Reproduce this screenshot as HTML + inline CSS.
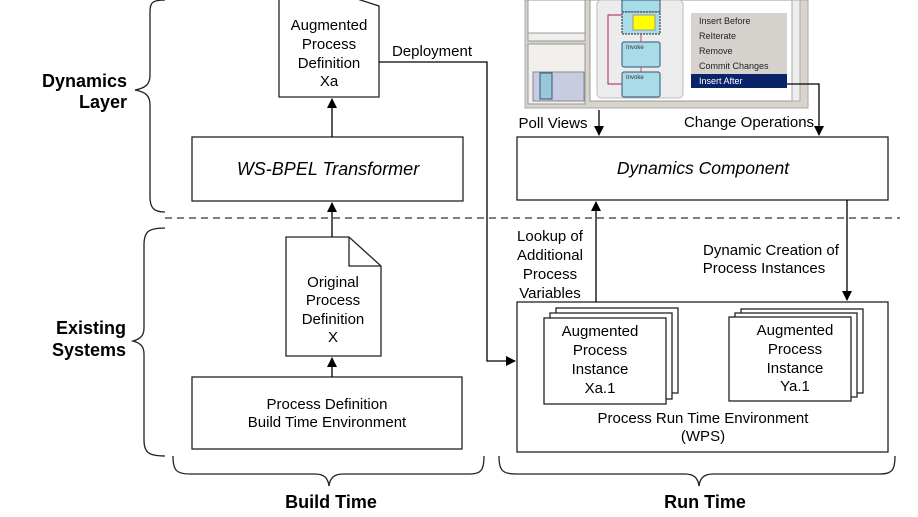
<!DOCTYPE html>
<html><head><meta charset="utf-8"><style>
html,body{margin:0;padding:0;background:#fff;}
svg{display:block;font-family:"Liberation Sans",sans-serif;}
</style></head><body>
<svg width="918" height="517" viewBox="0 0 918 517" xmlns="http://www.w3.org/2000/svg">
<defs>
<marker id="a" markerWidth="10" markerHeight="10" refX="9" refY="5" orient="auto" markerUnits="userSpaceOnUse"><path d="M0,0 L10,5 L0,10 z" fill="#000"/></marker>
</defs>
<g fill="none" stroke="#222" stroke-width="1.3">
<path d="M165,0 C150,0 150,4 150,15 L150,75 C150,84 146,88 135,90 C146,92 150,96 150,105 L150,197 C150,208 154,212 165,212"/>
<path d="M165,228 C148,228 144,232 144,245 L144,328 C144,336 140,339 133,341 C140,343 144,346 144,354 L144,440 C144,452 148,456 165,456"/>
<path d="M173,456 C173,470 176,474 190,474 L315,474 C324,474 328,478 329,486 C330,478 334,474 343,474 L470,474 C481,474 484,470 484,456"/>
<path d="M499,456 C499,470 502,474 516,474 L685,474 C694,474 698,478 699,486 C700,478 704,474 713,474 L880,474 C892,474 895,470 895,456"/>
</g>
<line x1="165" y1="218" x2="900" y2="218" stroke="#333" stroke-width="1.2" stroke-dasharray="7,5"/>
<g fill="#fff" stroke="#222" stroke-width="1.3">
<path d="M279,-5 L345,-5 L379,6 L379,97 L279,97 Z"/>
<rect x="192" y="137" width="271" height="64"/>
<path d="M286,237 L349,237 L381,266 L381,356 L286,356 Z"/>
<path d="M349,237 L349,266 L381,266" fill="none"/>
<rect x="192" y="377" width="270" height="72"/>
<rect x="517" y="137" width="371" height="63"/>
<rect x="517" y="302" width="371" height="150"/>
<rect x="556" y="308" width="122" height="85"/><rect x="550" y="313" width="122" height="86"/><rect x="544" y="318" width="122" height="86"/>
<rect x="741" y="309" width="122" height="84"/><rect x="735" y="313" width="122" height="84"/><rect x="729" y="317" width="122" height="84"/>
</g>
<rect x="525" y="0" width="283" height="108" fill="#d8d4cc" stroke="#aaa"/>
<rect x="528" y="0" width="57" height="33" fill="#fff" stroke="#999"/>
<rect x="528" y="33" width="57" height="8" fill="#eee" stroke="#999"/>
<rect x="528" y="44" width="57" height="60" fill="#f2f0ec" stroke="#999"/>
<rect x="533" y="72" width="51" height="29" fill="#c8cce0" stroke="#888"/>
<rect x="540" y="73" width="12" height="26" fill="#9ac8d8" stroke="#357"/>
<rect x="590" y="0" width="210" height="101" fill="#fff" stroke="#999"/>
<rect x="597" y="0" width="86" height="98" rx="4" fill="#ececec" stroke="#bbb"/>
<rect x="622" y="0" width="38" height="12" fill="#a8dce8" stroke="#357"/>
<rect x="622" y="12" width="38" height="22" fill="#a8dce8" stroke="#222" stroke-dasharray="2,1"/>
<rect x="633" y="15" width="22" height="15" fill="#ffff00" stroke="#999"/>
<rect x="622" y="42" width="38" height="25" rx="2" fill="#a8dce8" stroke="#357"/>
<rect x="622" y="72" width="38" height="25" rx="2" fill="#a8dce8" stroke="#357"/>
<path d="M622,15 L608,15 L608,84 L622,84" fill="none" stroke="#c04080" stroke-width="1.2"/>
<line x1="641" y1="34" x2="641" y2="42" stroke="#c04080"/><line x1="641" y1="67" x2="641" y2="72" stroke="#c04080"/>
<text x="626" y="49" font-size="6" fill="#333">Invoke</text><text x="626" y="79" font-size="6" fill="#333">Invoke</text>
<rect x="691" y="13" width="96" height="75" fill="#d6d3ce"/>
<rect x="691" y="74" width="96" height="14" fill="#0a246a"/>
<g font-size="9" fill="#222">
<text x="699" y="24">Insert Before</text><text x="699" y="39">ReIterate</text><text x="699" y="54">Remove</text><text x="699" y="69">Commit Changes</text>
<text x="699" y="84" fill="#fff">Insert After</text></g>
<rect x="792" y="0" width="8" height="101" fill="#eee" stroke="#aaa"/>
<g stroke="#000" stroke-width="1.3" fill="none">
<line x1="332" y1="137" x2="332" y2="99" marker-end="url(#a)"/>
<line x1="332" y1="237" x2="332" y2="203" marker-end="url(#a)"/>
<line x1="332" y1="377" x2="332" y2="358" marker-end="url(#a)"/>
<path d="M379,62 L487,62 L487,361 L515,361" marker-end="url(#a)"/>
<line x1="599" y1="110" x2="599" y2="135" marker-end="url(#a)"/>
<path d="M787,84 L819,84 L819,135" marker-end="url(#a)"/>
<line x1="596" y1="302" x2="596" y2="202" marker-end="url(#a)"/>
<line x1="847" y1="200" x2="847" y2="300" marker-end="url(#a)"/>
</g>
<g font-size="15" fill="#000" text-anchor="middle">
<text x="329" y="30">Augmented</text><text x="329" y="49">Process</text><text x="329" y="68">Definition</text><text x="329" y="86">Xa</text>
<text x="432" y="56">Deployment</text>
<text x="328" y="175" font-size="18" font-style="italic">WS-BPEL Transformer</text>
<text x="333" y="287">Original</text><text x="333" y="305">Process</text><text x="333" y="324">Definition</text><text x="333" y="342">X</text>
<text x="327" y="409">Process Definition</text><text x="327" y="427">Build Time Environment</text>
<text x="553" y="128">Poll Views</text>
<text x="749" y="127">Change Operations</text>
<text x="703" y="174" font-size="17.5" font-style="italic">Dynamics Component</text>
<text x="550" y="241">Lookup of</text><text x="550" y="260">Additional</text><text x="550" y="279">Process</text><text x="550" y="298">Variables</text>
<text x="771" y="255">Dynamic Creation of</text><text x="764" y="273">Process Instances</text>
<text x="600" y="336">Augmented</text><text x="600" y="355">Process</text><text x="600" y="374">Instance</text><text x="600" y="393">Xa.1</text>
<text x="795" y="335">Augmented</text><text x="795" y="354">Process</text><text x="795" y="373">Instance</text><text x="795" y="391">Ya.1</text>
<text x="703" y="423">Process Run Time Environment</text><text x="703" y="441">(WPS)</text>
</g>
<g font-size="18" font-weight="bold" fill="#000" text-anchor="end">
<text x="127" y="87">Dynamics</text><text x="127" y="108">Layer</text>
<text x="126" y="334">Existing</text><text x="126" y="356">Systems</text>
</g>
<g font-size="18" font-weight="bold" fill="#000" text-anchor="middle">
<text x="331" y="508">Build Time</text><text x="705" y="508">Run Time</text>
</g>
</svg>
</body></html>
